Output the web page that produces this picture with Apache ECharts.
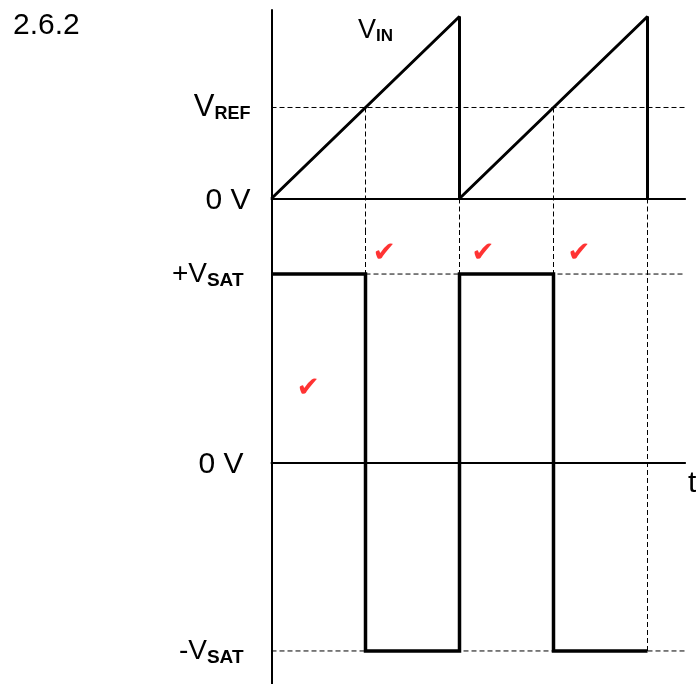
<!DOCTYPE html>
<html>
<head>
<meta charset="utf-8">
<script src="https://cdn.jsdelivr.net/npm/echarts@6/dist/echarts.min.js"></script>
<style>
  html, body { margin: 0; padding: 0; background: #fff; }
  #main { width: 696px; height: 684px; }
</style>
</head>
<body>
<div id="main"></div>
<script>
// V_IN sawtooth (top) and comparator output (bottom), time in units of half a ramp
const sawT = [0, 2, 2, 4, 4]
const sawV = [0, 2, 0, 2, 0]
const sqT = [0, 1, 1, 2, 2, 3, 3, 4]
const sqV = [1, 1, -1, -1, 1, 1, -1, -1]
const vRef = 1
const crossT = [1, 3] // V_IN reaches V_REF
const resetT = [2, 4] // ramp resets
const checkT = [1.2, 2.25, 3.27, 0.39]
const checkV = [1.11, 1.11, 1.11, 0.39]
const tMax = 4.4

// axis ranges (top panel / bottom panel), nudged half a pixel so the thin dashes stay crisp
const rngIn = { min: -0.3465, max: 2.0715 }
const rngOut = { min: -1.1753, max: 1.2337 }

const chart = echarts.init(document.getElementById('main'))

const zip = (a, b) => a.map((v, i) => [v, b[i]])
const dash = { color: '#000', width: 1, type: [5, 3] }

function guide(ax, pts) {
  return {
    type: 'line',
    xAxisIndex: ax,
    yAxisIndex: ax,
    data: pts,
    symbol: 'none',
    silent: true,
    z: 1,
    lineStyle: dash
  }
}

const guides = []
// top panel
guides.push(guide(0, [[0, vRef], [tMax, vRef]]))
crossT.forEach(t => guides.push(guide(0, [[t, vRef], [t, rngIn.min]])))
resetT.forEach(t => guides.push(guide(0, [[t, 0], [t, rngIn.min]])))
// bottom panel
guides.push(guide(1, [[crossT[0], 1], [tMax, 1]]))
guides.push(guide(1, [[0, -1], [tMax, -1]]))
crossT.concat(resetT[0]).forEach(t => guides.push(guide(1, [[t, rngOut.max], [t, 1]])))
guides.push(guide(1, [[resetT[1], rngOut.max], [resetT[1], -1]]))

const axisLine = { show: true, onZero: true, lineStyle: { color: '#000', width: 2 } }
const font = 'Liberation Sans'

chart.setOption({
  animation: false,
  backgroundColor: '#fff',
  title: [
    {
      text: '2.6.2',
      left: 8,
      top: 6,
      textStyle: { fontFamily: font, fontSize: 30, fontWeight: 'normal', color: '#000' }
    },
    {
      text: '{v|V}{s|IN}',
      left: 353,
      top: 12,
      textStyle: {
        fontWeight: 'normal',
        rich: {
          v: { fontFamily: font, fontSize: 27, fontWeight: 'normal', color: '#000' },
          s: { fontFamily: font, fontSize: 17, fontWeight: 'bold', color: '#000', padding: [11, 0, 0, 0] }
        }
      }
    }
  ],
  grid: [
    { left: 271.5, right: 10.9, top: 10, height: 220, outerBoundsMode: 'none' },
    { left: 271.5, right: 10.9, top: 230, height: 454, outerBoundsMode: 'none' }
  ],
  xAxis: [
    {
      type: 'value', gridIndex: 0, min: 0, max: tMax,
      axisLine: axisLine, axisTick: { show: false }, axisLabel: { show: false }, splitLine: { show: false }
    },
    {
      type: 'value', gridIndex: 1, min: 0, max: tMax,
      axisLine: axisLine, axisTick: { show: false }, axisLabel: { show: false }, splitLine: { show: false },
      name: 't',
      nameLocation: 'end',
      nameGap: 3,
      nameTextStyle: {
        fontFamily: font, fontSize: 30, color: '#000',
        align: 'left', verticalAlign: 'top', padding: [6, 0, 0, 0]
      }
    }
  ],
  yAxis: [
    {
      type: 'value', gridIndex: 0, min: rngIn.min, max: rngIn.max,
      axisLine: { show: true, onZero: false, lineStyle: { color: '#000', width: 2 } },
      axisTick: { show: false }, splitLine: { show: false },
      axisLabel: {
        customValues: [0, vRef],
        margin: 21,
        formatter: v => (v === 0 ? '{z|0 V}' : '{v|V}{s|REF}'),
        rich: {
          z: { fontFamily: font, fontSize: 30, color: '#000', padding: [5, 0, 0, 0] },
          v: { fontFamily: font, fontSize: 31, color: '#000' },
          s: { fontFamily: font, fontSize: 18, fontWeight: 'bold', color: '#000', padding: [14, 0, 0, 0] }
        }
      }
    },
    {
      type: 'value', gridIndex: 1, min: rngOut.min, max: rngOut.max,
      axisLine: { show: true, onZero: false, lineStyle: { color: '#000', width: 2 } },
      axisTick: { show: false }, splitLine: { show: false },
      axisLabel: {
        customValues: [-1, 0, 1],
        margin: 28,
        formatter: v => (v === 0 ? '{z|0 V}' : '{v|' + (v > 0 ? '+V' : '-V') + '}{s|SAT}'),
        rich: {
          z: { fontFamily: font, fontSize: 30, color: '#000', padding: [5, 0, 0, 0] },
          v: { fontFamily: font, fontSize: 28, color: '#000' },
          s: { fontFamily: font, fontSize: 19, fontWeight: 'bold', color: '#000', padding: [13, 0, 0, 0] }
        }
      }
    }
  ],
  series: guides.concat([
    {
      name: 'VIN',
      type: 'line',
      xAxisIndex: 0,
      yAxisIndex: 0,
      data: zip(sawT, sawV),
      symbol: 'none',
      z: 3,
      lineStyle: { color: '#000', width: 3 }
    },
    {
      name: 'VOUT',
      type: 'line',
      xAxisIndex: 1,
      yAxisIndex: 1,
      data: zip(sqT, sqV),
      symbol: 'none',
      z: 3,
      lineStyle: { color: '#000', width: 3.5, join: 'miter' }
    },
    {
      // marker's ticks
      type: 'scatter',
      xAxisIndex: 1,
      yAxisIndex: 1,
      data: zip(checkT, checkV),
      symbolSize: 1,
      itemStyle: { color: 'rgba(0,0,0,0)' },
      z: 4,
      label: {
        show: true,
        position: 'inside',
        formatter: '✔',
        fontFamily: 'DejaVu Sans',
        fontSize: 28,
        color: '#f00'
      }
    }
  ])
})
</script>
</body>
</html>
